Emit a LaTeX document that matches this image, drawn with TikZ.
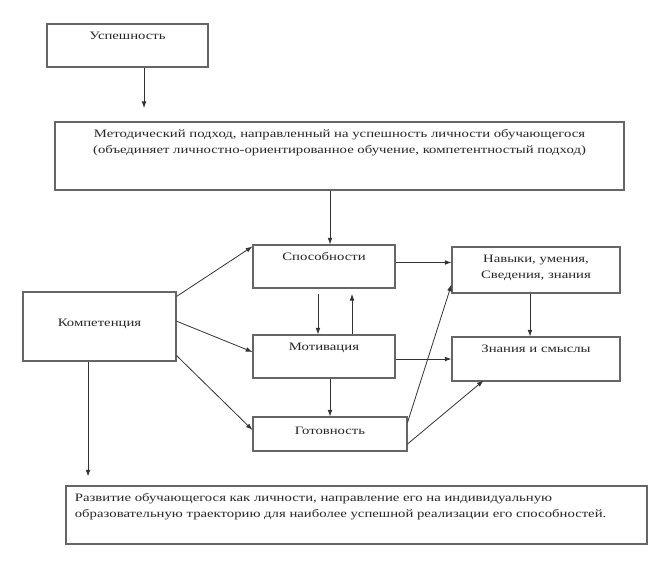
\documentclass[tikz,border=0pt]{standalone}
\usepackage{fontspec}
\setmainfont{Liberation Serif}[FakeStretch=1.3]
\usetikzlibrary{arrows.meta, positioning}
\def\pxu{0.75pt}

\begin{document}
\begin{tikzpicture}[x=0.75pt, y=-0.75pt, ->, >={Latex[length=5pt,width=3.6pt]}, draw=black!80, line width=0.6pt, font=\fontsize{8.5}{12}\selectfont]
    \tikzstyle{box}=[rectangle, draw=black!60, line width=0.8pt, inner sep=0pt, fill=white]
    \tikzstyle{toptext}=[anchor=north, inner sep=0pt, yshift=-6pt, align=center, text=black!85]
    \useasboundingbox (0,0) rectangle (660,580);

    % top blocks
    \node[box, minimum width=161*\pxu, minimum height=43*\pxu, label={[toptext]north:Успешность}] (usp) at (127.5,45.5) {};
    \node[box, minimum width=569*\pxu, minimum height=68*\pxu, label={[toptext]north:Методический подход, направленный на успешность личности обучающегося\\(объединяет личностно-ориентированное обучение, компетентностый подход)}] (met) at (339.5,156) {};

    % middle blocks
    \node[box, minimum width=153*\pxu, minimum height=69*\pxu, label={[toptext, yshift=-14.5pt]north:Компетенция}] (komp) at (99.5,326.5) {};
    \node[box, minimum width=142*\pxu, minimum height=43*\pxu, label={[toptext]north:Способности}] (spos) at (324,266.5) {};
    \node[box, minimum width=142*\pxu, minimum height=43*\pxu, label={[toptext]north:Мотивация}] (mot) at (324,356.5) {};
    \node[box, minimum width=154*\pxu, minimum height=34*\pxu, label={[toptext, yshift=-2pt]north:Готовность}] (got) at (330,434) {};
    \node[box, minimum width=168*\pxu, minimum height=46*\pxu, label={[toptext]north:Навыки, умения,\\Сведения, знания}] (nav) at (536,270) {};
    \node[box, minimum width=168*\pxu, minimum height=44*\pxu, label={[toptext]north:Знания и смыслы}] (zn) at (536,359) {};

    % bottom block
    \node[box, minimum width=581*\pxu, minimum height=58*\pxu, label={[toptext, anchor=north west, align=left, xshift=6.75pt]north west:Развитие обучающегося как личности, направление его на индивидуальную\\образовательную траекторию для наиболее успешной реализации его способностей.}] (razv) at (356.5,515) {};

    % arrows
    \draw[shorten >=10pt] ([xshift=12.4pt]usp.south) -- ([xshift=12.4pt]usp.south |- met.north);
    \draw (met.south -| got.north) -- (spos.north -| got.north);
    \draw ([yshift=-3.75pt]komp.north east) -- ([yshift=-1.5pt]spos.north west);
    \draw ([yshift=4pt]komp.east) -- ([yshift=3.4pt]mot.west);
    \draw ([yshift=4.5pt]komp.south east) -- ([yshift=3pt]got.west);
    \draw ([xshift=-4.5pt,yshift=-4pt]spos.south) -- ([xshift=-4.5pt]mot.north);
    \draw ([xshift=21pt]mot.north) -- ([xshift=21pt,yshift=-4pt]spos.south);
    \draw (mot.south -| got.north) -- (got.north);
    \draw ([yshift=3pt]spos.east) -- ([yshift=3pt]spos.east -| nav.west);
    \draw ([yshift=-1.9pt]mot.east) -- ([yshift=-1.9pt]mot.east -| zn.west);
    \draw ([xshift=-4.5pt]nav.south) -- ([xshift=-4.5pt]zn.north);
    \draw ([yshift=-4.5pt]got.north east) -- ([yshift=6.75pt]nav.south west);
    \draw ([yshift=-7.5pt]got.east) -- ([xshift=24pt,yshift=0.75pt]zn.south west);
    \draw[shorten >=6.75pt] ([xshift=-8.6pt]komp.south) -- ([xshift=-8.6pt]komp.south |- razv.north);
\end{tikzpicture}
\end{document}
